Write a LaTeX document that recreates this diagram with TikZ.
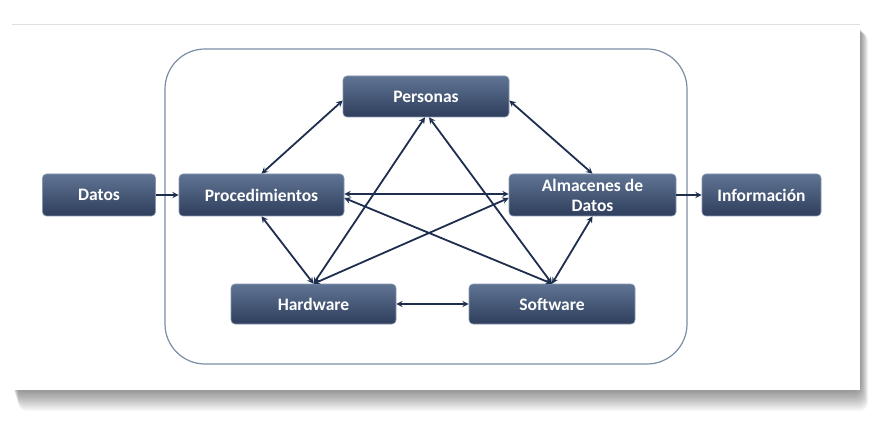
\documentclass[tikz,border=0pt]{standalone}
\usepackage{fontspec}
\setmainfont{Carlito}
\usetikzlibrary{calc}
\definecolor{cajaarriba}{HTML}{607493}
\definecolor{cajaabajo}{HTML}{2E3E5C}
\definecolor{borde}{HTML}{8797B0}
\definecolor{flechas}{HTML}{1E2E4E}
\definecolor{marco}{HTML}{7B8CA6}

\begin{document}
\begin{tikzpicture}[x = 1pt, y = -1pt,
  caja/.style = {rectangle, rounded corners = 4pt, draw = borde, line width = 0.6pt,
                 top color = cajaarriba, bottom color = cajaabajo, text = white,
                 font = \fontsize{17.5}{20}\selectfont\bfseries, align = center,
                 inner sep = 0pt},
  flecha/.style = {<->, >=stealth, color = flechas, line width = 1.8pt},
  entrada/.style = {->, >=stealth, color = flechas, line width = 1.8pt}]
\useasboundingbox (0,0) rectangle (891,438);
% sombra y hoja
\foreach \s in {1,...,16}
  \fill [black, opacity = 0.03, rounded corners = 8pt] (12+0.4*\s,25+0.5*\s) rectangle (860+0.5*\s,390+1.3*\s);
\fill [white] (12,25) rectangle (860,390);
\draw [black!12, line width = 1pt] (12,25) -- (860,25);
% marco
\draw [marco, line width = 1.2pt, rounded corners = 40pt] (165,49) rectangle (687,364);
% cajas
\node [caja, minimum width = 113pt, minimum height = 42pt] (datos) at (99,195) {Datos};
\node [caja, minimum width = 165pt, minimum height = 42pt] (proc) at (261.5,195) {Procedimientos};
\node [caja, minimum width = 166pt, minimum height = 41pt] (personas) at (426,96.5) {Personas};
\node [caja, minimum width = 167pt, minimum height = 42pt] (almacenes) at (592.5,195) {Almacenes de\\Datos};
\node [caja, minimum width = 119pt, minimum height = 42pt] (info) at (761.5,195) {Información};
\node [caja, minimum width = 165pt, minimum height = 40pt] (hardware) at (313.5,304) {Hardware};
\node [caja, minimum width = 166pt, minimum height = 40pt] (software) at (552,304) {Software};
% flechas
\draw [entrada] (datos) -- (proc);
\draw [entrada] (almacenes) -- (info);
\draw [flecha] (proc.north) -- ([yshift=-4pt]personas.west);
\draw [flecha] ([yshift=-4pt]personas.east) -- (almacenes.north);
\draw [flecha] ([yshift=1pt]proc.east) -- ([yshift=1pt]almacenes.west);
\draw [flecha] (proc.south) -- (hardware.north);
\draw [flecha] (almacenes.south) -- (software.north);
\draw [flecha] (hardware) -- (software);
\draw [flecha] ([xshift=-1pt]personas.south) -- (hardware.north);
\draw [flecha] ([xshift=3pt]personas.south) -- (software.north);
\draw [flecha] ([yshift=-3pt]proc.east) -- (software.north);
\draw [flecha] (hardware.north) -- ([yshift=-3pt]almacenes.west);
\end{tikzpicture}
\end{document}
